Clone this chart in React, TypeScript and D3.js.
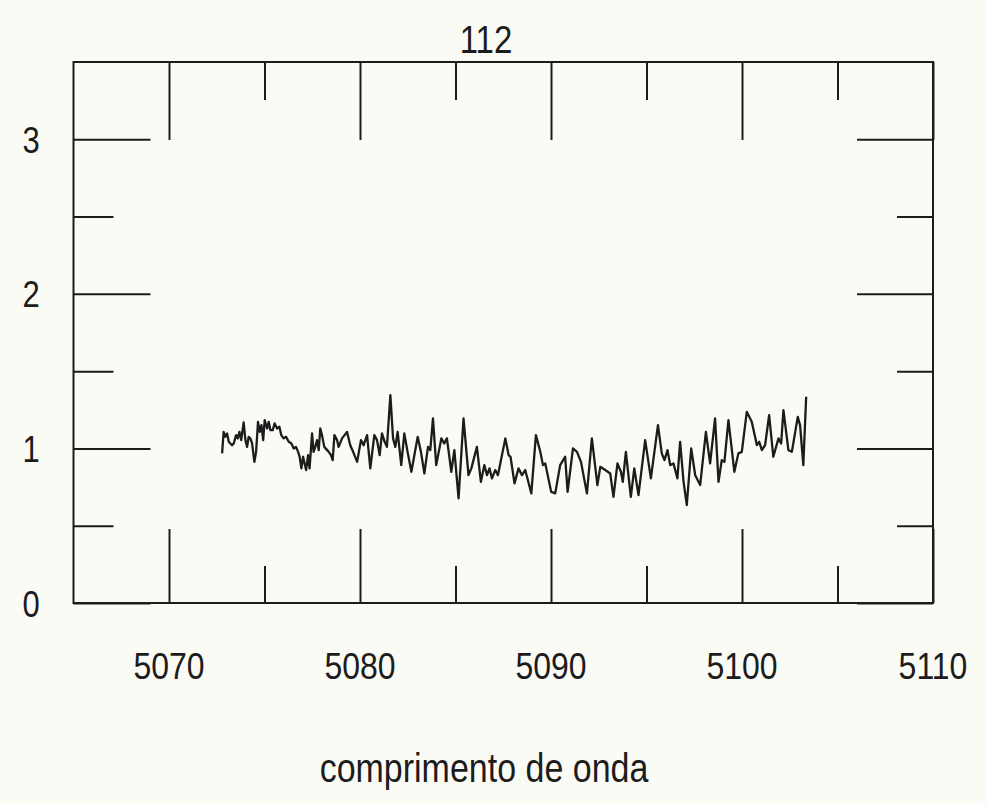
import React, { useEffect, useRef } from "react";
import * as d3 from "d3";

// Spectrum panel "112": relative flux against wavelength (Å)
const title = "112";
const xAxisLabel = "comprimento de onda";
const xDomain = [5065, 5110];
const yDomain = [0, 3.5];
const xMajorTicks = [5070, 5080, 5090, 5100, 5110];
const xMinorTicks = [5075, 5085, 5095, 5105];
const yMajorTicks = [0, 1, 2, 3];
const yMinorTicks = [0.5, 1.5, 2.5];

const wavelength = [
  5072.78, 5072.86, 5072.95, 5073.04, 5073.13, 5073.3, 5073.39, 5073.51, 5073.6, 5073.69,
  5073.78, 5073.91, 5074.0, 5074.09, 5074.17, 5074.26, 5074.35, 5074.47, 5074.56, 5074.66,
  5074.75, 5074.84, 5074.93, 5075.01, 5075.14, 5075.22, 5075.31, 5075.43, 5075.53, 5075.66,
  5075.78, 5075.88, 5076.0, 5076.13, 5076.27, 5076.41, 5076.53, 5076.65, 5076.76, 5076.84,
  5076.93, 5077.02, 5077.1, 5077.18, 5077.28, 5077.36, 5077.49, 5077.57, 5077.66, 5077.75,
  5077.84, 5077.92, 5078.01, 5078.13, 5078.28, 5078.36, 5078.48, 5078.57,
  5078.66, 5078.8, 5078.88, 5079.06, 5079.32, 5079.49, 5079.64, 5079.85, 5080.05, 5080.19,
  5080.37, 5080.54, 5080.75, 5080.89, 5081.03, 5081.15, 5081.29, 5081.41, 5081.59, 5081.73,
  5081.85, 5081.97, 5082.16, 5082.32, 5082.49, 5082.69, 5083.02, 5083.19, 5083.37, 5083.56,
  5083.68, 5083.82, 5083.99, 5084.26, 5084.41,
  5084.55, 5084.78, 5084.94, 5085.16, 5085.42, 5085.68, 5085.83, 5086.12, 5086.33, 5086.51,
  5086.65, 5086.78, 5086.91, 5087.08, 5087.22, 5087.61, 5087.78, 5087.88, 5088.09, 5088.3,
  5088.48, 5088.65, 5088.97, 5089.21, 5089.44, 5089.58, 5089.7, 5090.01, 5090.22, 5090.48,
  5090.74,
  5090.87, 5091.15, 5091.36, 5091.57, 5091.88, 5092.14, 5092.43, 5092.58, 5092.84, 5093.1,
  5093.27, 5093.48, 5093.66, 5093.76, 5093.92, 5094.18, 5094.36, 5094.58, 5094.93, 5095.23,
  5095.6, 5095.8, 5095.94, 5096.1, 5096.24, 5096.41, 5096.62,
  5096.76, 5096.94, 5097.11, 5097.34, 5097.55, 5097.81, 5098.11, 5098.33, 5098.59, 5098.77,
  5098.94, 5099.08, 5099.29, 5099.6, 5099.81, 5099.99, 5100.25, 5100.51, 5100.78, 5100.9,
  5101.04, 5101.21, 5101.42, 5101.64, 5101.91, 5102.05, 5102.17, 5102.43, 5102.61, 5102.92,
  5103.04, 5103.21, 5103.36,
];

const flux = [
  0.968, 1.107, 1.075, 1.097, 1.043, 1.021, 1.032, 1.086, 1.065, 1.107,
  1.054, 1.168, 1.054, 1.01, 1.075, 1.065, 1.032, 0.913, 0.978, 1.172,
  1.107, 1.151, 1.054, 1.183, 1.129, 1.172, 1.118, 1.118, 1.162, 1.129,
  1.14, 1.086, 1.065, 1.075, 1.043, 1.032, 1.0, 1.01, 0.978, 0.946,
  0.871, 0.946, 0.903, 0.86, 0.957, 0.871, 1.097, 0.978, 1.01, 1.054,
  0.989, 1.129, 1.086, 1.01, 0.989, 0.978, 0.957, 0.924,
  1.086, 1.054, 1.01, 1.065, 1.107, 1.021, 0.978, 0.913, 1.054, 1.021,
  1.086, 0.871, 1.086, 1.054, 0.957, 1.097, 1.043, 1.01, 1.345, 1.065,
  1.01, 1.107, 0.892, 1.097, 0.978, 0.849, 1.075, 0.978, 0.838, 1.01,
  0.989, 1.194, 0.892, 1.065, 1.032,
  1.065, 0.849, 0.989, 0.677, 1.194, 0.827, 0.871, 1.01, 0.784, 0.892,
  0.827, 0.871, 0.806, 0.86, 0.827, 1.065, 0.957, 0.946, 0.774, 0.871,
  0.827, 0.86, 0.709, 1.086, 0.978, 0.892, 0.903, 0.719, 0.709, 0.892,
  0.946,
  0.719, 1.0, 0.978, 0.913, 0.709, 1.065, 0.763, 0.881, 0.86, 0.838,
  0.687, 0.903, 0.849, 0.784, 0.978, 0.687, 0.871, 0.698, 1.054, 0.806,
  1.151, 0.968, 0.924, 0.989, 0.892, 0.903, 0.806,
  1.043, 0.784, 0.634, 1.0, 0.827, 0.763, 1.107, 0.903, 1.194, 0.784,
  0.924, 0.913, 1.183, 0.849, 0.968, 0.978, 1.237, 1.172, 1.021, 1.043,
  0.989, 1.021, 1.215, 0.946, 1.065, 1.032, 1.248, 0.989, 0.978, 1.204,
  1.151, 0.892, 1.334,
];

const W = 986;
const H = 804;
const M = { left: 73.5, right: 933, top: 62, bottom: 603 };
const INK = "#1c1c1c";
const FONT = "'Liberation Sans', Arial, Helvetica, sans-serif";
const STRETCH = 1.18; // plotter lettering is taller than it is wide

export default function App() {
  const ref = useRef<SVGSVGElement | null>(null);

  useEffect(() => {
    const svg = d3.select(ref.current);
    svg.selectAll("*").remove();

    const x = d3.scaleLinear().domain(xDomain).range([M.left, M.right]);
    const y = d3.scaleLinear().domain(yDomain).range([M.bottom, M.top]);

    const styleAxis = (g: any) => {
      g.select(".domain").remove();
      g.selectAll("line").attr("stroke", INK).attr("stroke-width", 2);
    };

    // inward-pointing ticks on all four sides
    const tickGroups: [any, number, number[], number][] = [
      [d3.axisBottom(x), M.bottom, xMajorTicks, -74],
      [d3.axisBottom(x), M.bottom, xMinorTicks, -37],
      [d3.axisTop(x), M.top, xMajorTicks, -78],
      [d3.axisTop(x), M.top, xMinorTicks, -38],
    ];
    tickGroups.forEach(([axis, pos, vals, size]) => {
      svg
        .append("g")
        .attr("transform", `translate(0,${pos})`)
        .call(axis.tickValues(vals).tickSize(size).tickFormat(() => ""))
        .call(styleAxis);
    });
    const yTickGroups: [any, number, number[], number][] = [
      [d3.axisLeft(y), M.left, yMajorTicks, -77],
      [d3.axisLeft(y), M.left, yMinorTicks, -40],
      [d3.axisRight(y), M.right, yMajorTicks, -76],
      [d3.axisRight(y), M.right, yMinorTicks, -36],
    ];
    yTickGroups.forEach(([axis, pos, vals, size]) => {
      svg
        .append("g")
        .attr("transform", `translate(${pos},0)`)
        .call(axis.tickValues(vals).tickSize(size).tickFormat(() => ""))
        .call(styleAxis);
    });

    // frame
    svg
      .append("rect")
      .attr("x", M.left)
      .attr("y", M.top)
      .attr("width", M.right - M.left)
      .attr("height", M.bottom - M.top)
      .attr("fill", "none")
      .attr("stroke", INK)
      .attr("stroke-width", 2);

    // spectrum
    const pts = wavelength.map((w, i) => [w, flux[i]] as [number, number]);
    const line = d3
      .line<[number, number]>()
      .x((d) => x(d[0]))
      .y((d) => y(d[1]));
    svg
      .append("path")
      .attr("d", line(pts))
      .attr("fill", "none")
      .attr("stroke", INK)
      .attr("stroke-width", 2.3)
      .attr("stroke-linejoin", "round");

    // text placed at an anchor point and stretched vertically
    const labels = svg
      .append("g")
      .attr("font-family", FONT)
      .attr("fill", INK);
    const put = (px: number, py: number, s: string, size: number) =>
      labels
        .append("text")
        .attr("transform", `translate(${px},${py}) scale(1,${STRETCH})`)
        .attr("text-anchor", "middle")
        .attr("font-size", size)
        .text(s);

    xMajorTicks.forEach((d) => put(x(d), 679, String(d), 32));
    yMajorTicks.forEach((d) => put(31, y(d) + 13.5, String(d), 31));
    put(486, 53, title, 33);
    put(484, 782, xAxisLabel, 34);
  }, []);

  return (
    <svg
      ref={ref}
      width={W}
      height={H}
      style={{ position: "absolute", left: 0, top: 0, background: "#fbfbf6" }}
    />
  );
}
